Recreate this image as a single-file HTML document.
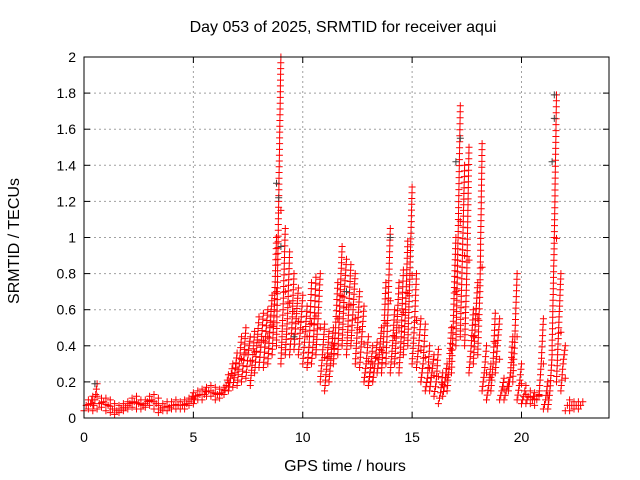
<!DOCTYPE html>
<html><head><meta charset="utf-8"><style>
body{margin:0;background:#fff;}
svg{display:block;font-family:"Liberation Sans",sans-serif;}
</style></head><body>
<svg id="chart" width="640" height="480" viewBox="0 0 640 480" xmlns="http://www.w3.org/2000/svg">
<text x="343" y="32" font-size="16" text-anchor="middle">Day 053 of 2025, SRMTID for receiver aqui</text>
<text x="345" y="471" font-size="16" text-anchor="middle">GPS time / hours</text>
<text transform="translate(19,241) rotate(-90)" font-size="16" text-anchor="middle">SRMTID / TECUs</text>
<g id="grid"></g><g id="ticks"></g><g id="marks"></g>
<rect x="84" y="57" width="525" height="361" fill="none" stroke="#000" stroke-width="1"/>
</svg>
<script>
const xTicks=[0,5,10,15,20];
const yTicks=[0,0.2,0.4,0.6,0.8,1,1.2,1.4,1.6,1.8,2];
const yLabels=["0","0.2","0.4","0.6","0.8","1","1.2","1.4","1.6","1.8","2"];
const times=[];for(let i=0;i<114;i++)times.push(+(i*0.2).toFixed(1));
const lo=[.04,.05,.04,.05,.06,.04,.03,.02,.03,.04,.05,.06,.05,.05,.06,.07,.05,.03,.04,.04,.05,.05,.05,.05,.07,.08,.10,.10,.12,.12,.10,.11,.13,.15,.17,.18,.20,.22,.18,.25,.28,.28,.30,.35,.40,.30,.35,.35,.38,.35,.30,.28,.30,.35,.20,.15,.20,.30,.35,.40,.35,.40,.30,.28,.20,.18,.20,.25,.25,.30,.25,.30,.25,.35,.40,.30,.28,.20,.15,.15,.12,.08,.12,.15,.25,.40,.45,.40,.25,.30,.35,.15,.10,.15,.25,.10,.10,.15,.20,.10,.08,.08,.08,.07,.12,.05,.05,.40,.20,.15,.04,.04,.05,.05];
const mid=[.07,.08,.10,.08,.09,.07,.05,.04,.05,.06,.08,.09,.08,.07,.09,.10,.08,.05,.06,.06,.07,.07,.07,.08,.10,.12,.13,.13,.15,.14,.13,.14,.18,.22,.25,.30,.32,.35,.32,.40,.42,.45,.50,.60,1.20,.60,.55,.50,.55,.50,.45,.42,.45,.55,.35,.30,.35,.50,.65,.70,.60,.60,.50,.45,.30,.28,.30,.35,.45,.60,.40,.50,.45,.60,.80,.50,.40,.30,.22,.25,.20,.14,.20,.30,.60,1.00,.90,.80,.40,.55,.70,.25,.18,.30,.40,.15,.15,.25,.45,.18,.12,.12,.10,.10,.30,.10,.15,1.00,.50,.30,.07,.07,.07,.07];
const hi=[.10,.12,.19,.11,.11,.10,.08,.07,.08,.09,.11,.12,.10,.10,.12,.13,.11,.08,.09,.09,.10,.09,.10,.11,.14,.15,.16,.17,.18,.17,.16,.17,.24,.30,.36,.45,.50,.45,.48,.56,.58,.60,.68,1.00,2.00,1.05,.92,.80,.72,.68,.62,.75,.78,.80,.52,.48,.50,.75,.95,.88,.85,.80,.70,.62,.45,.40,.42,.50,.75,1.05,.60,.75,.82,.98,1.28,.80,.55,.52,.40,.35,.38,.25,.30,.50,1.00,1.73,1.40,1.50,.60,.75,1.52,.40,.30,.58,.55,.22,.20,.45,.80,.30,.18,.15,.14,.13,.55,.20,.35,1.79,.80,.40,.10,.09,.09,.09];
const grayT=[0.5,8.8,8.9,9.0,14.0,17.0,17.2,21.5,21.5,21.4,12.0,9.6];
const grayV=[0.19,1.30,1.22,0.95,1.00,1.42,1.55,1.79,1.66,1.42,0.70,0.45];
const X0=84,X1=609,Y0=418,Y1=57;
const xs=t=>X0+(t/24)*(X1-X0);
const ys=v=>Y0-(v/2)*(Y0-Y1);
const NS="http://www.w3.org/2000/svg";
function mk(tag,attrs,parent){const e=document.createElementNS(NS,tag);for(const k in attrs)e.setAttribute(k,attrs[k]);parent.appendChild(e);return e;}
const grid=document.getElementById('grid'),ticks=document.getElementById('ticks'),marks=document.getElementById('marks');
yTicks.forEach((v,i)=>{const y=ys(v);
 if(i>0&&i<yTicks.length-1){const g=mk('line',{x1:X0,x2:X1,y1:y,y2:y,stroke:'#a0a0a0','stroke-dasharray':'2,3'},grid);
 
 }
 mk('line',{x1:X0,x2:X0+6,y1:y,y2:y,stroke:'#000'},ticks);
 mk('line',{x1:X1,x2:X1-6,y1:y,y2:y,stroke:'#000'},ticks);
 const t=mk('text',{x:X0-8,y:y+5,'font-size':14,'text-anchor':'end'},ticks);t.textContent=yLabels[i];
 
 
});
xTicks.forEach(v=>{const x=xs(v);
 if(v>0){const g=mk('line',{x1:x,x2:x,y1:Y0,y2:Y1,stroke:'#a0a0a0','stroke-dasharray':'2,3'},grid);
 
 }
 mk('line',{x1:x,x2:x,y1:Y0,y2:Y0-6,stroke:'#000'},ticks);
 mk('line',{x1:x,x2:x,y1:Y1,y2:Y1+6,stroke:'#000'},ticks);
 const t=mk('text',{x:x,y:Y0+24,'font-size':14,'text-anchor':'middle'},ticks);t.textContent=v;
 
 
});
let d='';
function plus(x,y){d+=`M${(x-3.5).toFixed(1)} ${y.toFixed(1)}h7M${x.toFixed(1)} ${(y-3.5).toFixed(1)}v7`;}
times.forEach((t,i)=>{
 const pts=[[t,lo[i]],[t+0.1,mid[i]],[t+0.2,hi[i]]];
 const [a,b,c]=pts.map(p=>[xs(p[0]),ys(p[1])]);
 [[a,b],[b,c]].forEach(([p,q])=>{const n=Math.max(1,Math.ceil(Math.abs(q[1]-p[1])/6));
  for(let k=0;k<=n;k++)plus(p[0]+(q[0]-p[0])*k/n,p[1]+(q[1]-p[1])*k/n);});
 if(i<times.length-1){plus((c[0]+xs(times[i+1]))/2,(c[1]+ys(lo[i+1]))/2);}
});
const red=mk('path',{d:d,stroke:'#ff0000','stroke-width':1,fill:'none'},marks);


d='';
grayT.forEach((t,i)=>plus(xs(t),ys(grayV[i])));
const gr=mk('path',{d:d,stroke:'#404040','stroke-width':1,fill:'none'},marks);


</script>
</body></html>
